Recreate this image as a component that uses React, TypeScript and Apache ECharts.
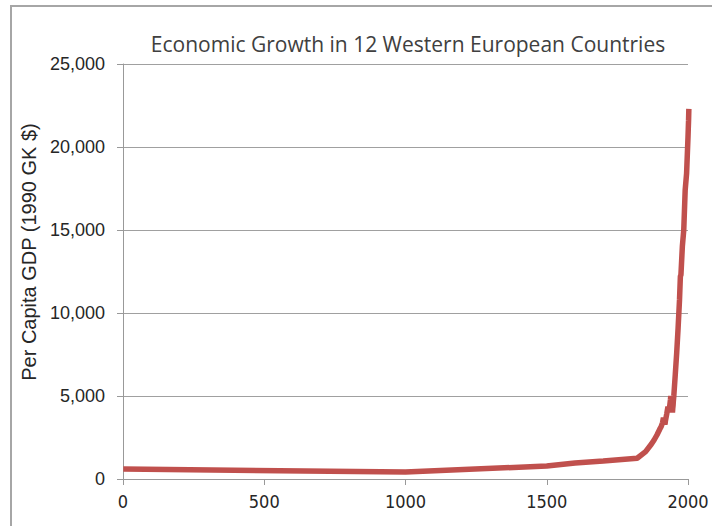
import React, { useEffect, useRef } from "react";
import * as echarts from "echarts";

const titleText = "Economic Growth in 12 Western European Countries";
const yAxisTitle = "Per Capita GDP (1990 GK $)";

const years = [
  1, 1000, 1500, 1600, 1700, 1820, 1850, 1870, 1880, 1890, 1900, 1905, 1910, 1913,
  1915, 1917, 1918, 1919, 1920, 1925, 1929, 1931, 1932, 1935, 1938, 1939, 1940,
  1941, 1942, 1943, 1944, 1945, 1946, 1947, 1948, 1949, 1950, 1955, 1960, 1965,
  1970, 1973, 1975, 1980, 1985, 1990, 1995, 2000, 2001, 2002, 2003,
];
const gdp = [
  600, 425, 780, 960, 1080, 1250, 1650, 2090, 2350, 2650, 3000, 3150, 3400, 3690,
  3450, 3400, 3300, 3350, 3500, 3950, 4350, 4150, 4050, 4350, 4800, 5000, 4800,
  4850, 4750, 4700, 4500, 4000, 4250, 4400, 4650, 4850, 5050, 6300, 7600, 9100,
  10800, 12200, 12300, 14000, 15000, 17400, 18400, 20600, 21100, 21600, 22300,
];

export default function App() {
  const ref = useRef<HTMLDivElement>(null);
  useEffect(() => {
    if (!ref.current) return;
    const chart = echarts.init(ref.current, null, { renderer: "svg" });
    const data = years.map((y, i) => [y, gdp[i]]);
    chart.setOption({
      animation: false,
      backgroundColor: "#ffffff",
      title: {
        text: titleText,
        left: 403,
        top: 28,
        textAlign: "center",
        textStyle: {
          fontFamily: "Open Sans",
          fontSize: 21,
          fontWeight: "normal",
          color: "#404040",
        },
      },
      graphic: [
        {
          type: "rect",
          shape: { x: 11, y: 6, width: 740, height: 560 },
          style: { fill: "none", stroke: "#a6a6a6", lineWidth: 2 },
          silent: true,
        },
        {
          type: "text",
          x: 29,
          y: 252,
          rotation: Math.PI / 2,
          style: {
            text: yAxisTitle,
            align: "center",
            verticalAlign: "middle",
            font: "20px 'Liberation Sans', Arial, sans-serif",
            fill: "#262626",
          },
        },
      ],
      grid: { left: 123, right: 24, top: 64, bottom: 47 },
      xAxis: {
        type: "value",
        min: 0,
        max: 2000,
        interval: 500,
        axisLine: { show: true, lineStyle: { color: "#999999", width: 1 } },
        axisTick: { show: true, length: 6, lineStyle: { color: "#999999" } },
        splitLine: { show: false },
        axisLabel: {
          margin: 13,
          fontFamily: "'Liberation Sans Narrow', 'DejaVu Sans Condensed', sans-serif",
          fontSize: 18,
          color: "#262626",
          formatter: (v: number) => String(v),
        },
      },
      yAxis: {
        type: "value",
        min: 0,
        max: 25000,
        interval: 5000,
        axisLine: { show: true, lineStyle: { color: "#999999", width: 1 } },
        axisTick: { show: true, length: 6, lineStyle: { color: "#999999" } },
        splitLine: { show: true, lineStyle: { color: "#a0a0a0", width: 1 } },
        axisLabel: {
          margin: 18,
          fontFamily: "'Liberation Sans', Arial, sans-serif",
          fontSize: 18,
          color: "#262626",
          formatter: (v: number) => v.toLocaleString("en-US"),
        },
      },
      series: [
        {
          type: "line",
          data,
          showSymbol: false,
          clip: false,
          lineStyle: { color: "#C0504D", width: 5.5 },
          itemStyle: { color: "#C0504D" },
        },
      ],
    });
    return () => chart.dispose();
  }, []);
  return (
    <div
      ref={ref}
      style={{ position: "absolute", left: 0, top: 0, width: 712, height: 526 }}
    />
  );
}
